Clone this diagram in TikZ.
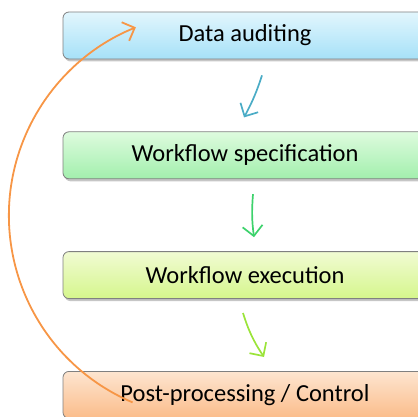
\documentclass[tikz,border=0pt]{standalone}
\usepackage{fontspec}
\setmainfont{Carlito}
\usetikzlibrary{positioning,calc,shadows,arrows.meta}
\definecolor{audittop}{HTML}{E2F6FD}
\definecolor{auditbot}{HTML}{A6E1F8}
\definecolor{spectop}{HTML}{DEFBDE}
\definecolor{specbot}{HTML}{A2EFAD}
\definecolor{exectop}{HTML}{F1FBD3}
\definecolor{execbot}{HTML}{D5F68C}
\definecolor{posttop}{HTML}{FDE5D0}
\definecolor{postbot}{HTML}{FBBC8A}
\definecolor{auditarrow}{HTML}{4BACC6}
\definecolor{specarrow}{HTML}{3DD26C}
\definecolor{execarrow}{HTML}{9BE43A}
\definecolor{looparrow}{HTML}{F79646}

\begin{document}
\begin{tikzpicture}[x=1pt,y=-1pt,
  stage/.style={draw=black!50, line width=.8pt, rounded corners=6pt,
    minimum width=364pt, minimum height=47pt, inner sep=0pt,
    font=\fontsize{24.5}{27}\selectfont,
    drop shadow={shadow xshift=1.5pt,shadow yshift=-2.5pt,opacity=.45}},
  flow/.style={line width=1.7pt, -{Straight Barb[length=10pt,width=20pt]}}]
  \useasboundingbox (0,0) rectangle (417,417);
  \node[stage, top color=audittop, bottom color=auditbot] (audit) at (245,35.5) {Data auditing};
  \node[stage, top color=spectop, bottom color=specbot, below=72pt of audit] (spec) {Workflow specification};
  \node[stage, top color=exectop, bottom color=execbot, below=72pt of spec] (exec) {Workflow execution};
  \node[stage, top color=posttop, bottom color=postbot, below=72pt of exec] (post) {Post-processing / Control};
  \coordinate (a1) at ($(audit.south)+(17,16)$);
  \coordinate (a2) at ($(audit.south)+(-1,58)$);
  \coordinate (s1) at ($(spec.south)+(8,15)$);
  \coordinate (s2) at ($(spec.south)+(9,58)$);
  \coordinate (e1) at ($(exec.south)+(-2,14)$);
  \coordinate (e2) at ($(exec.south)+(19,58)$);
  \coordinate (loopstart) at ($(post.west)+(70,7.5)$);
  \draw[flow, auditarrow] (a1) to[bend left=5] (a2);
  \draw[flow, specarrow] (s1) to[bend right=6] (s2);
  \draw[flow, execarrow] (e1) to[bend right=8] (e2);
  \draw[looparrow, line width=1.8pt, -{Straight Barb[length=10pt,width=20pt]}]
    (loopstart) arc[start angle=113, end angle=248, radius=203];
\end{tikzpicture}
\end{document}
